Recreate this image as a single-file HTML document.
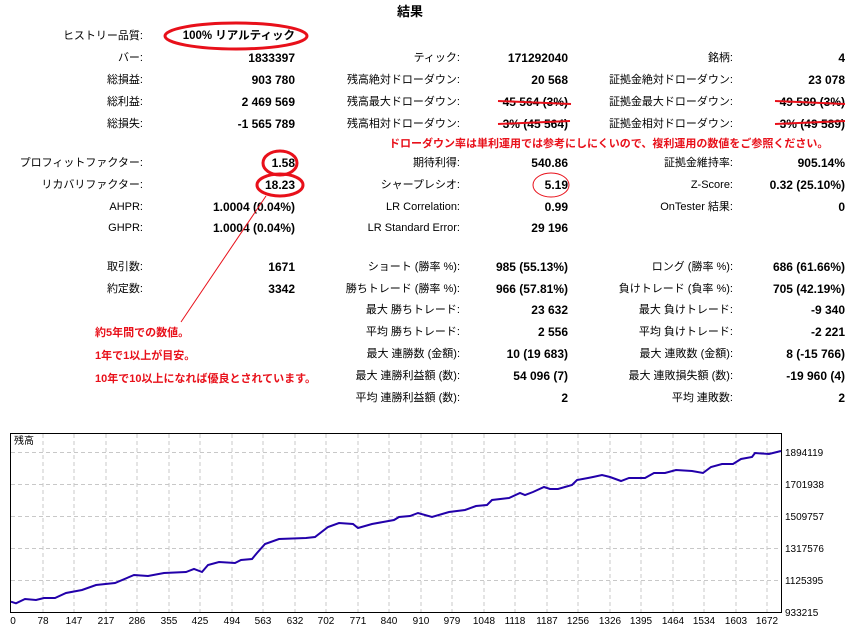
<!DOCTYPE html>
<html><head><meta charset="utf-8"><style>
body{margin:0;width:856px;height:636px;background:#fff;position:relative;overflow:hidden;font-family:"Liberation Sans","Noto Sans CJK JP",sans-serif;font-size:12px;color:#000}
.l,.v{position:absolute;white-space:nowrap;line-height:14px}
.l{font-size:11px}
.v{font-weight:bold}
.r{color:#e8101a;font-weight:bold;position:absolute;white-space:nowrap;line-height:14px;font-size:11px}
svg{position:absolute;left:0;top:0}
</style></head><body>
<div class="v" style="left:397px;top:5px;font-size:13px">結果</div>

<div class="l" style="right:713px;top:29px">ヒストリー品質:</div><div class="v" style="right:561px;top:29px;font-size:11.5px">100% リアルティック</div>

<div class="l" style="right:713px;top:51px">バー:</div><div class="v" style="right:561px;top:51px">1833397</div>
<div class="l" style="right:396px;top:51px">ティック:</div><div class="v" style="right:288px;top:51px">171292040</div>
<div class="l" style="right:123px;top:51px">銘柄:</div><div class="v" style="right:11px;top:51px">4</div>

<div class="l" style="right:713px;top:73px">総損益:</div><div class="v" style="right:561px;top:73px">903 780</div>
<div class="l" style="right:396px;top:73px">残高絶対ドローダウン:</div><div class="v" style="right:288px;top:73px">20 568</div>
<div class="l" style="right:123px;top:73px">証拠金絶対ドローダウン:</div><div class="v" style="right:11px;top:73px">23 078</div>

<div class="l" style="right:713px;top:95px">総利益:</div><div class="v" style="right:561px;top:95px">2 469 569</div>
<div class="l" style="right:396px;top:95px">残高最大ドローダウン:</div><div class="v" style="right:288px;top:95px">45 564 (3%)</div>
<div class="l" style="right:123px;top:95px">証拠金最大ドローダウン:</div><div class="v" style="right:11px;top:95px">49 589 (3%)</div>

<div class="l" style="right:713px;top:117px">総損失:</div><div class="v" style="right:561px;top:117px">-1 565 789</div>
<div class="l" style="right:396px;top:117px">残高相対ドローダウン:</div><div class="v" style="right:288px;top:117px">3% (45 564)</div>
<div class="l" style="right:123px;top:117px">証拠金相対ドローダウン:</div><div class="v" style="right:11px;top:117px">3% (49 589)</div>

<div class="r" style="left:389px;top:137px">ドローダウン率は単利運用では参考にしにくいので、複利運用の数値をご参照ください。</div>

<div class="l" style="right:713px;top:156px">プロフィットファクター:</div><div class="v" style="right:561px;top:156px">1.58</div>
<div class="l" style="right:396px;top:156px">期待利得:</div><div class="v" style="right:288px;top:156px">540.86</div>
<div class="l" style="right:123px;top:156px">証拠金維持率:</div><div class="v" style="right:11px;top:156px">905.14%</div>

<div class="l" style="right:713px;top:178px">リカバリファクター:</div><div class="v" style="right:561px;top:178px">18.23</div>
<div class="l" style="right:396px;top:178px">シャープレシオ:</div><div class="v" style="right:288px;top:178px">5.19</div>
<div class="l" style="right:123px;top:178px">Z-Score:</div><div class="v" style="right:11px;top:178px">0.32 (25.10%)</div>

<div class="l" style="right:713px;top:200px">AHPR:</div><div class="v" style="right:561px;top:200px">1.0004 (0.04%)</div>
<div class="l" style="right:396px;top:200px">LR Correlation:</div><div class="v" style="right:288px;top:200px">0.99</div>
<div class="l" style="right:123px;top:200px">OnTester 結果:</div><div class="v" style="right:11px;top:200px">0</div>

<div class="l" style="right:713px;top:221px">GHPR:</div><div class="v" style="right:561px;top:221px">1.0004 (0.04%)</div>
<div class="l" style="right:396px;top:221px">LR Standard Error:</div><div class="v" style="right:288px;top:221px">29 196</div>

<div class="l" style="right:713px;top:260px">取引数:</div><div class="v" style="right:561px;top:260px">1671</div>
<div class="l" style="right:396px;top:260px">ショート (勝率 %):</div><div class="v" style="right:288px;top:260px">985 (55.13%)</div>
<div class="l" style="right:123px;top:260px">ロング (勝率 %):</div><div class="v" style="right:11px;top:260px">686 (61.66%)</div>

<div class="l" style="right:713px;top:282px">約定数:</div><div class="v" style="right:561px;top:282px">3342</div>
<div class="l" style="right:396px;top:282px">勝ちトレード (勝率 %):</div><div class="v" style="right:288px;top:282px">966 (57.81%)</div>
<div class="l" style="right:123px;top:282px">負けトレード (負率 %):</div><div class="v" style="right:11px;top:282px">705 (42.19%)</div>

<div class="l" style="right:396px;top:303px">最大 勝ちトレード:</div><div class="v" style="right:288px;top:303px">23 632</div>
<div class="l" style="right:123px;top:303px">最大 負けトレード:</div><div class="v" style="right:11px;top:303px">-9 340</div>

<div class="l" style="right:396px;top:325px">平均 勝ちトレード:</div><div class="v" style="right:288px;top:325px">2 556</div>
<div class="l" style="right:123px;top:325px">平均 負けトレード:</div><div class="v" style="right:11px;top:325px">-2 221</div>

<div class="l" style="right:396px;top:347px">最大 連勝数 (金額):</div><div class="v" style="right:288px;top:347px">10 (19 683)</div>
<div class="l" style="right:123px;top:347px">最大 連敗数 (金額):</div><div class="v" style="right:11px;top:347px">8 (-15 766)</div>

<div class="l" style="right:396px;top:369px">最大 連勝利益額 (数):</div><div class="v" style="right:288px;top:369px">54 096 (7)</div>
<div class="l" style="right:123px;top:369px">最大 連敗損失額 (数):</div><div class="v" style="right:11px;top:369px">-19 960 (4)</div>

<div class="l" style="right:396px;top:391px">平均 連勝利益額 (数):</div><div class="v" style="right:288px;top:391px">2</div>
<div class="l" style="right:123px;top:391px">平均 連敗数:</div><div class="v" style="right:11px;top:391px">2</div>

<div class="r" style="left:95px;top:326px">約5年間での数値。</div>
<div class="r" style="left:95px;top:349px">1年で1以上が目安。</div>
<div class="r" style="left:95px;top:372px">10年で10以上になれば優良とされています。</div>

<svg width="856" height="636" viewBox="0 0 856 636">
<g fill="none" stroke="#e8101a">
<ellipse cx="236" cy="36" rx="71" ry="13" stroke-width="3"/>
<ellipse cx="280" cy="163" rx="17" ry="12" stroke-width="3"/>
<ellipse cx="280" cy="185" rx="23" ry="11" stroke-width="3"/>
<ellipse cx="551" cy="185" rx="18" ry="12" stroke-width="1"/>
<line x1="266" y1="196" x2="181" y2="322" stroke-width="1"/>
<line x1="498" y1="101" x2="571" y2="104" stroke-width="2"/>
<line x1="498" y1="124" x2="570" y2="121" stroke-width="2"/>
<line x1="775" y1="101" x2="845" y2="104" stroke-width="2"/>
<line x1="775" y1="124" x2="845" y2="121" stroke-width="2"/>
</g>
<rect x="10.5" y="433.5" width="771" height="179" fill="#fff" stroke="#000"/>
<g stroke="#c8c8c8" stroke-dasharray="4,3">
<line x1="11" y1="452.5" x2="781" y2="452.5"/><line x1="11" y1="484.5" x2="781" y2="484.5"/><line x1="11" y1="516.5" x2="781" y2="516.5"/><line x1="11" y1="548.5" x2="781" y2="548.5"/><line x1="11" y1="580.5" x2="781" y2="580.5"/>
<line x1="43" y1="434" x2="43" y2="612"/><line x1="74" y1="434" x2="74" y2="612"/><line x1="106" y1="434" x2="106" y2="612"/><line x1="137" y1="434" x2="137" y2="612"/><line x1="169" y1="434" x2="169" y2="612"/><line x1="200" y1="434" x2="200" y2="612"/><line x1="232" y1="434" x2="232" y2="612"/><line x1="263" y1="434" x2="263" y2="612"/><line x1="295" y1="434" x2="295" y2="612"/><line x1="326" y1="434" x2="326" y2="612"/><line x1="358" y1="434" x2="358" y2="612"/><line x1="389" y1="434" x2="389" y2="612"/><line x1="421" y1="434" x2="421" y2="612"/><line x1="452" y1="434" x2="452" y2="612"/><line x1="484" y1="434" x2="484" y2="612"/><line x1="515" y1="434" x2="515" y2="612"/><line x1="547" y1="434" x2="547" y2="612"/><line x1="578" y1="434" x2="578" y2="612"/><line x1="610" y1="434" x2="610" y2="612"/><line x1="641" y1="434" x2="641" y2="612"/><line x1="673" y1="434" x2="673" y2="612"/><line x1="704" y1="434" x2="704" y2="612"/><line x1="736" y1="434" x2="736" y2="612"/><line x1="767" y1="434" x2="767" y2="612"/>
</g>
<polyline fill="none" stroke="#2200aa" stroke-width="2" points="11,601.7 16,603.3 25,599 36,600 44,598 55,598 66,593 82,590 96,585 115,583 134,575 148,576 164,573 186,572 194,569 202,572 208,565 219,562 235,563 241,560 252,559 257,553 265,544 279,539 306,538 315,537 328,527 339,523 353,524 358,528 372,524 383,522 394,520 399,517 410,516 418,513 432,517 449,512 465,510 476,506 487,505 492,500 509,498 520,493 525,495 533,492 544,487 550,489 558,489 572,485 577,480 588,478 593,477 602,475 610,477 621,481 629,478 645,478 654,473 665,473 676,470 692,471 703,473 711,467 722,464 733,464 741,459 752,457 755,453 769,454 777,452 781,451"/>
<g font-family="Liberation Sans, Noto Sans CJK JP, sans-serif" font-size="10" fill="#000">
<text x="14" y="444">残高</text>
<text x="785" y="456">1894119</text><text x="785" y="488">1701938</text><text x="785" y="520">1509757</text><text x="785" y="552">1317576</text><text x="785" y="584">1125395</text><text x="785" y="616">933215</text>
<g text-anchor="middle">
<text x="13" y="624">0</text><text x="43" y="624">78</text><text x="74" y="624">147</text><text x="106" y="624">217</text><text x="137" y="624">286</text><text x="169" y="624">355</text><text x="200" y="624">425</text><text x="232" y="624">494</text><text x="263" y="624">563</text><text x="295" y="624">632</text><text x="326" y="624">702</text><text x="358" y="624">771</text><text x="389" y="624">840</text><text x="421" y="624">910</text><text x="452" y="624">979</text><text x="484" y="624">1048</text><text x="515" y="624">1118</text><text x="547" y="624">1187</text><text x="578" y="624">1256</text><text x="610" y="624">1326</text><text x="641" y="624">1395</text><text x="673" y="624">1464</text><text x="704" y="624">1534</text><text x="736" y="624">1603</text><text x="767" y="624">1672</text>
</g></g>
</svg>
</body></html>
